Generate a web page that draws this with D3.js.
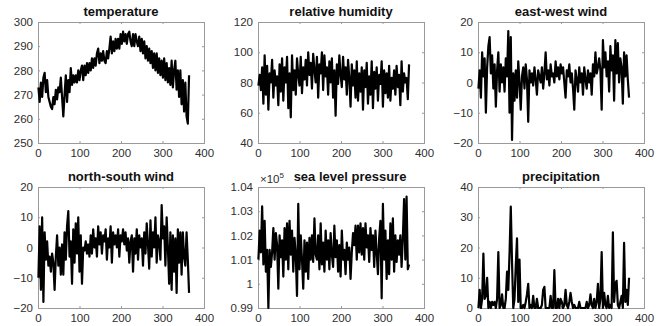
<!DOCTYPE html>
<html>
<head>
<meta charset="utf-8">
<script src="https://cdn.jsdelivr.net/npm/d3@7"></script>
<style>
  body { margin: 0; background: #fff; }
  text { font-family: "Liberation Sans", Arial, sans-serif; }
</style>
</head>
<body>
<div id="chart"></div>
<script>
// daily samples, read every third day off the picture
const days = d3.range(1, 366, 3);

const temperature = [
  273, 267, 275, 269, 277, 279, 271, 276, 269, 267,
  265, 264, 269, 266, 272, 268, 273, 271, 277, 269,
  261, 270, 278, 267, 276, 271, 281, 274, 278, 275,
  278, 275, 280, 276, 280, 282, 276, 282, 278, 283,
  279, 283, 280, 285, 281, 285, 282, 287, 289, 283,
  287, 284, 288, 284, 283, 288, 285, 289, 294, 287,
  292, 288, 293, 289, 293, 289, 295, 291, 296, 292,
  295, 291, 295, 296, 292, 290, 295, 290, 295, 292,
  290, 294, 288, 293, 287, 292, 285, 290, 284, 289,
  283, 288, 281, 287, 280, 287, 279, 285, 278, 284,
  277, 285, 276, 283, 275, 281, 274, 284, 273, 280,
  284, 272, 280, 269, 280, 266, 276, 263, 275, 261,
  258, 278
];

const humidity = [
  78, 85, 75, 90, 66, 98, 72, 91, 62, 86,
  80, 95, 70, 88, 78, 84, 65, 92, 74, 96,
  68, 90, 80, 97, 63, 86, 57, 98, 75, 88,
  72, 96, 85, 78, 97, 73, 90, 82, 95, 78,
  100, 85, 93, 76, 99, 88, 80, 97, 70, 92,
  86, 100, 75, 98, 84, 90, 72, 94, 80, 96,
  70, 88, 58, 92, 79, 98, 85, 77, 97, 82,
  90, 72, 95, 83, 64, 92, 78, 88, 70, 94,
  68, 86, 74, 90, 62, 88, 77, 93, 66, 84,
  72, 94, 63, 87, 76, 90, 68, 85, 79, 94,
  64, 88, 73, 86, 70, 91, 68, 83, 76, 88,
  72, 91, 77, 85, 65, 94, 74, 86, 80, 83,
  69, 92
];

const eastWestWind = [
  -2, 4, -5, 10, 2, 8, -10, 5, 12, 15,
  3, 9, -2, 6, -8, 4, 10, -3, 6, 0,
  5, -3, 8, 2, 17, -10, 15, -19, 3, -6,
  4, -5, 7, 0, -9, 2, 5, -2, 6, 1,
  -13, 4, 0, 3, -1, 5, 1, -4, 4, 2,
  0, 5, -2, 3, 10, 1, 4, -1, 6, 2,
  3, 0, 7, 2, 5, 1, 6, 3, 5, 0,
  -5, 4, 2, 6, 0, 3, -2, -9, 4, 1,
  -3, 5, 0, 3, -4, 5, 1, -2, 4, 0,
  3, -4, 6, 2, 10, 3, 5, 8, 4, -9,
  14, 5, 10, 2, 7, -3, 12, 4, 9, -6,
  14, 3, 13, 0, 8, 5, -7, 10, 2, 9,
  1, -5
];

const northSouthWind = [
  -10, 7, -14, 10, -18, 5, -4, 2, -6, -3,
  -8, -2, -5, -14, -3, 4, -6, 0, -9, 1,
  -9, 5, -4, 7, 12, -3, 2, -12, 6, -5,
  8, -2, 10, -8, 4, -12, 0, -1, 2, -2,
  1, -3, 4, -2, 6, 0, 3, -3, 7, 1,
  5, -2, 4, 2, 6, -4, 3, 0, 7, -5,
  5, 1, 4, 0, 6, -3, 4, 2, 6, 1,
  5, -1, 3, -5, 2, 4, -8, 3, -2, 6,
  -4, 4, 0, 3, -6, 5, -2, 8, 1, -7,
  9, -3, 5, 0, 10, -5, 4, 2, -4, 14,
  3, 7, -6, 10, 0, -12, 5, -14, 4, -8,
  3, -15, 6, -5, 5, -9, 5, -3, -6, 5,
  -4, -15
];

const seaLevelPressure = [
  101000, 102200, 101300, 103200, 100800, 102600, 100500, 101400, 99000, 101400,
  100700, 101300, 102300, 101000, 102100, 101600, 99800, 102000, 101100, 101800,
  100300, 102300, 101000, 102500, 100600, 102600, 101200, 102200, 100500, 101900,
  101200, 99500, 103300, 100600, 102000, 101000, 99800, 101800, 100500, 101700,
  100200, 101900, 101000, 102000, 100900, 102700, 101200, 101000, 102000, 100600,
  102500, 100800, 101700, 100500, 102200, 101000, 101800, 100600, 102100, 101200,
  100700, 102400, 101100, 101800, 100500, 101600, 100300, 102200, 101000, 101400,
  100400, 101700, 101000, 101500, 100200, 101300, 102100, 101600, 102400, 101000,
  102400, 101300, 102500, 101200, 102300, 101000, 102500, 101500, 102000, 100900,
  102300, 101400, 102000, 100700, 102200, 101300, 100400, 101900, 102600, 99400,
  103300, 101000, 102200, 100200, 101800, 100400, 102500, 101000, 102700, 100500,
  102000, 100900, 101800, 101200, 102000, 100700, 101900, 103500, 101000, 103600,
  100600, 100800
];

const precipitation = [
  0, 6, 0, 3, 18, 3, 4, 10, 0, 2,
  0, 2, 1, 2, 0, 3, 18.5, 0, 1, 4.5,
  0, 0, 3, 12, 6, 18, 33.5, 15, 0, 3,
  14, 23, 2, 16, 0, 0, 1, 0, 2, 4.5,
  8, 0, 1, 0, 4, 0, 0, 3, 0, 0,
  0, 1, 6, 7, 0, 0, 0, 0, 4, 0,
  0, 12.5, 0, 0, 3, 0, 3, 2, 0, 1,
  6, 1, 0, 2, 5, 2, 0, 1, 0, 0,
  0, 2, 0, 0, 0, 0, 0, 2, 0, 1,
  4.5, 1, 0, 3, 0, 2, 8, 0, 3, 18.5,
  0, 5, 1, 0, 4, 0, 1, 0, 25, 2,
  8, 9, 1, 0, 2, 4, 0, 21.5, 2, 6,
  1, 10
];

const xTicks = [0, 100, 200, 300, 400];

const panels = [
  {title: "temperature", values: temperature, domain: [250, 300], ticks: [250, 260, 270, 280, 290, 300]},
  {title: "relative humidity", values: humidity, domain: [40, 120], ticks: [40, 60, 80, 100, 120]},
  {title: "east-west wind", values: eastWestWind, domain: [-20, 20], ticks: [-20, -10, 0, 10, 20]},
  {title: "north-south wind", values: northSouthWind, domain: [-20, 20], ticks: [-20, -10, 0, 10, 20]},
  {title: "sea level pressure", values: seaLevelPressure, domain: [99000, 104000],
    ticks: [99000, 100000, 101000, 102000, 103000, 104000], exponent: 5},
  {title: "precipitation", values: precipitation, domain: [0, 40], ticks: [0, 10, 20, 30, 40]}
];

const pars = {
  width: 661,
  height: 326,
  colLeft: [38, 258, 478],
  rowTop: [22, 187],
  plotWidth: 166,
  plotHeight: 121,
  tickSize: 2,
  boxColor: "#9a9a9a",
  labelColor: "#2e2e2e",
  fontSize: "11.5px",
  lineWidth: 2.2
};

const svg = d3.select("#chart").append("svg")
  .attr("width", pars.width)
  .attr("height", pars.height);

function styleAxis(g, hideText) {
  g.select(".domain").remove();
  g.selectAll(".tick line").attr("stroke", pars.boxColor);
  g.selectAll("text")
    .attr("fill", pars.labelColor)
    .style("font-size", pars.fontSize);
  if (hideText) g.selectAll("text").remove();
}

function drawPanel(p, i) {
  const x0 = pars.colLeft[i % 3];
  const y0 = pars.rowTop[Math.floor(i / 3)];
  const w = pars.plotWidth, h = pars.plotHeight;

  const x = d3.scaleLinear().domain([0, 400]).range([x0, x0 + w]);
  const y = d3.scaleLinear().domain(p.domain).range([y0 + h, y0]);
  const fmt = p.exponent ? (d => d3.format("~g")(d / Math.pow(10, p.exponent))) : d3.format("d");

  svg.append("g")
    .attr("transform", "translate(0," + (y0 + h) + ")")
    .call(d3.axisBottom(x).tickValues(xTicks).tickSizeInner(-pars.tickSize).tickSizeOuter(0).tickPadding(6))
    .call(g => styleAxis(g, false));
  svg.append("g")
    .attr("transform", "translate(0," + y0 + ")")
    .call(d3.axisTop(x).tickValues(xTicks).tickSizeInner(-pars.tickSize).tickSizeOuter(0))
    .call(g => styleAxis(g, true));
  svg.append("g")
    .attr("transform", "translate(" + x0 + ",0)")
    .call(d3.axisLeft(y).tickValues(p.ticks).tickFormat(fmt).tickSizeInner(-pars.tickSize).tickSizeOuter(0).tickPadding(5))
    .call(g => styleAxis(g, false));
  svg.append("g")
    .attr("transform", "translate(" + (x0 + w) + ",0)")
    .call(d3.axisRight(y).tickValues(p.ticks).tickSizeInner(-pars.tickSize).tickSizeOuter(0))
    .call(g => styleAxis(g, true));

  svg.append("rect")
    .attr("x", x0 + 0.5)
    .attr("y", y0 + 0.5)
    .attr("width", w)
    .attr("height", h)
    .attr("fill", "none")
    .attr("stroke", pars.boxColor)
    .attr("stroke-width", 1);

  const line = d3.line()
    .x((d, k) => x(days[k]))
    .y(d => y(d));

  svg.append("path")
    .datum(p.values)
    .attr("d", line)
    .attr("fill", "none")
    .attr("stroke", "#000")
    .attr("stroke-width", pars.lineWidth)
    .attr("stroke-linejoin", "round");

  // title (shifted right when the exponent label sits on the left)
  const titleX = p.exponent ? x0 + w / 2 + 9 : x0 + w / 2;
  svg.append("text")
    .attr("x", titleX)
    .attr("y", y0 - 6)
    .attr("text-anchor", "middle")
    .style("font-size", "13px")
    .style("font-weight", "bold")
    .attr("fill", "#111")
    .text(p.title);

  if (p.exponent) {
    const t = svg.append("text")
      .attr("x", x0 + 2)
      .attr("y", y0 - 4)
      .attr("fill", pars.labelColor)
      .style("font-size", pars.fontSize);
    t.append("tspan").text("\u00d710");
    t.append("tspan").attr("dy", -5).style("font-size", "8px").text(p.exponent);
  }
}

panels.forEach(drawPanel);
</script>
</body>
</html>
